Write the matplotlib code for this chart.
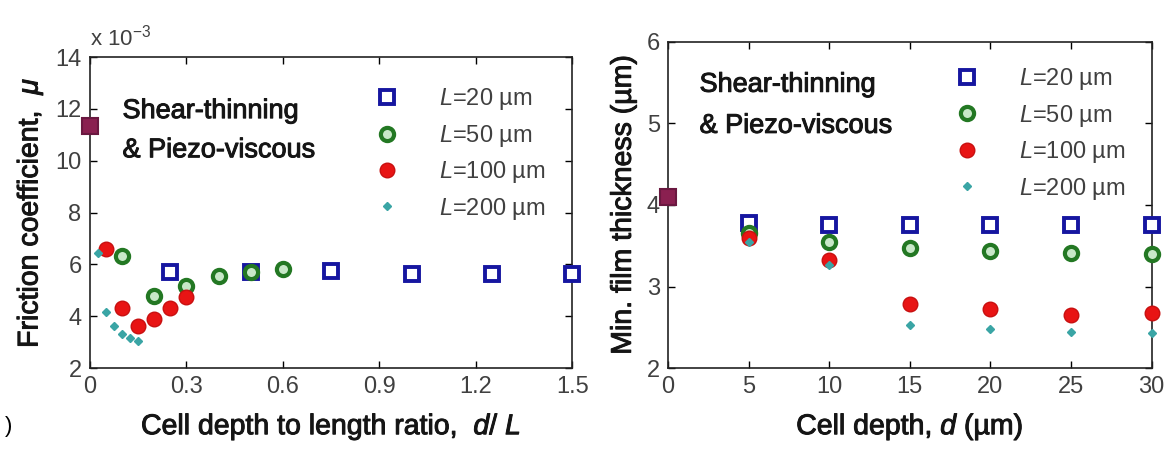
import matplotlib
matplotlib.use("Agg")
import matplotlib.pyplot as plt
import matplotlib.patheffects as pe
import numpy as np

plt.rcParams['font.family'] = ['Liberation Sans', 'DejaVu Sans']
plt.rcParams['mathtext.fontset'] = 'custom'
plt.rcParams['mathtext.rm'] = 'Liberation Sans'
plt.rcParams['mathtext.it'] = 'Liberation Sans:italic'

# left panel: friction coefficient (x 1e-3) vs d/L
flat_ratio = [0.0]
flat_mu = [11.35]
ratio_20 = [0.25, 0.5, 0.75, 1.0, 1.25, 1.5]
mu_20 = [5.71, 5.70, 5.76, 5.65, 5.65, 5.65]
ratio_50 = [0.1, 0.2, 0.3, 0.4, 0.5, 0.6]
mu_50 = [6.32, 4.77, 5.15, 5.55, 5.71, 5.81]
ratio_100 = [0.05, 0.1, 0.15, 0.2, 0.25, 0.3]
mu_100 = [6.58, 4.33, 3.63, 3.88, 4.33, 4.75]
ratio_200 = [0.025, 0.05, 0.075, 0.1, 0.125, 0.15]
mu_200 = [6.45, 4.18, 3.62, 3.33, 3.18, 3.05]

# right panel: min film thickness (um) vs d (um)
flat_d = [0.0]
flat_h = [4.1]
depth = [5, 10, 15, 20, 25, 30]
h_20 = [3.78, 3.76, 3.76, 3.76, 3.75, 3.76]
h_50 = [3.66, 3.54, 3.47, 3.44, 3.41, 3.40]
h_100 = [3.60, 3.33, 2.78, 2.72, 2.65, 2.67]
h_200 = [3.55, 3.27, 2.53, 2.48, 2.44, 2.43]

labels = ['$L$=20 µm', '$L$=50 µm', '$L$=100 µm', '$L$=200 µm']

blue = '#1616a0'
green = '#237823'
red = '#e81414'
cyan = '#3aa5a5'
maroon = '#8a2050'
tick_col = '#404040'
ink = '#151515'
# slightly heavier than regular, like the blurred original
heavy = [pe.withStroke(linewidth=0.7, foreground=ink)]

fig = plt.figure(figsize=(11.68, 4.5), dpi=100)
ax1 = fig.add_axes([0.077, 0.182, 0.413, 0.691])
ax2 = fig.add_axes([0.572, 0.182, 0.414, 0.725])


def draw(ax, x0, y0, series):
    (x20, y20), (x50, y50), (x100, y100), (x200, y200) = series
    ax.plot(x20, y20, 's', ms=10.5, mfc='white', mec=blue, mew=2.8,
            label=labels[0], clip_on=False, zorder=3)
    ax.plot(x50, y50, 'o', ms=9.5, mfc='#c8e8c8', mec=green, mew=3,
            label=labels[1], clip_on=False, zorder=4)
    ax.plot(x100, y100, 'o', ms=10.5, mfc=red, mec='#c81010', mew=1,
            label=labels[2], clip_on=False, zorder=5)
    ax.plot(x200, y200, 'D', ms=4, mfc=cyan, mec=cyan,
            label=labels[3], clip_on=False, zorder=6)
    ax.plot(x0, y0, 's', ms=11, mfc=maroon, mec='#6a1840', mew=1.5,
            clip_on=False, zorder=7)
    ax.tick_params(direction='in', length=5, width=1, top=True, right=True,
                   labelsize=17, labelcolor=tick_col, pad=6)
    for s in ax.spines.values():
        s.set_linewidth(1.2)
        s.set_color('#222222')


def note(ax, x, y1, y2):
    for y, s in [(y1, 'Shear-thinning'), (y2, '& Piezo-viscous')]:
        ax.text(x, y, s, transform=ax.transAxes, fontsize=19.5, color=ink,
                va='baseline', ha='left', path_effects=heavy)


def key(ax, x, y):
    ax.legend(loc='upper left', bbox_to_anchor=(x, y), frameon=False,
              fontsize=17, labelcolor=tick_col, handletextpad=1.7,
              labelspacing=0.44, handlelength=1.0)


def axis_labels(ax, xl, yl):
    ax.set_xlabel(xl, fontsize=20.5, color=ink, labelpad=10, path_effects=heavy)
    ax.set_ylabel(yl, fontsize=20.5, color=ink, labelpad=7, path_effects=heavy)


draw(ax1, flat_ratio, flat_mu,
     [(ratio_20, mu_20), (ratio_50, mu_50), (ratio_100, mu_100), (ratio_200, mu_200)])
ax1.set_xlim(0, 1.5)
ax1.set_ylim(2, 14)
ax1.set_xticks(np.arange(0, 1.51, 0.3))
ax1.set_xticklabels(['0', '0.3', '0.6', '0.9', '1.2', '1.5'])
ax1.set_yticks(range(2, 15, 2))
axis_labels(ax1, 'Cell depth to length ratio,  $d$/ $L$', 'Friction coefficient,  $\\mu$')
ax1.text(0.0, 1.038, 'x 10$^{-3}$', transform=ax1.transAxes, fontsize=16,
         color=tick_col, ha='left', va='baseline')
note(ax1, 0.0675, 0.804, 0.678)
key(ax1, 0.547, 0.974)

draw(ax2, flat_d, flat_h,
     [(depth, h_20), (depth, h_50), (depth, h_100), (depth, h_200)])
ax2.set_xlim(0, 30)
ax2.set_ylim(2, 6)
ax2.set_xticks(range(0, 31, 5))
ax2.set_yticks(range(2, 7))
axis_labels(ax2, 'Cell depth, $d$ (µm)', 'Min. film thickness (µm)')
note(ax2, 0.065, 0.847, 0.721)
key(ax2, 0.55, 0.99)

fig.text(0.004, 0.04, ')', fontsize=16)

fig.savefig('out.png', dpi=100)
